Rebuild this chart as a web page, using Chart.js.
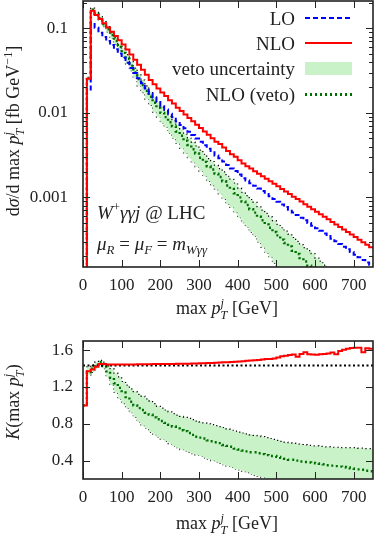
<!DOCTYPE html>
<html>
<head>
<meta charset="utf-8">
<script src="https://cdn.jsdelivr.net/npm/chart.js@4.4.1/dist/chart.umd.min.js"></script>
<style>
  body { margin: 0; background: #fff; }
  #wrap { position: relative; width: 374px; height: 534px; font-family: 'Liberation Serif', serif; color: #222; }
  canvas { position: absolute; left: 0; }
  .lbl { position: absolute; white-space: nowrap; line-height: 1; }
  .c { transform: translate(-50%, -50%); }
  .r { transform: translate(-100%, -50%); }
  .l { transform: translate(0, -50%); }
  .rot { transform: translate(-50%, -50%) rotate(-90deg); }
  .ss { display: inline-block; vertical-align: -0.42em; font-size: 0.68em; line-height: 0.95; text-align: left; font-style: italic; }
  .ss > span { display: block; }
  sub, sup { font-size: 0.68em; line-height: 0; }
  .sw { position: absolute; left: 305px; width: 47px; }
</style>
</head>
<body>
<div id="wrap">
  <canvas id="topChart" width="374" height="300" style="top:0"></canvas>
  <canvas id="botChart" width="374" height="214" style="top:320px"></canvas>

  <!-- axis titles -->
  <div class="lbl rot" style="left:15px; top:131px; font-size:18px;">d<i>σ</i>/d max <i>p</i><span class="ss"><span>j</span><span>T</span></span> [fb GeV<sup>−1</sup>]</div>
  <div class="lbl c" style="left:227px; top:310px; font-size:18px;">max <i>p</i><span class="ss"><span>j</span><span>T</span></span> [GeV]</div>
  <div class="lbl rot" style="left:15px; top:402px; font-size:18px;"><i>K</i>(max <i>p</i><span class="ss"><span>j</span><span>T</span></span>)</div>
  <div class="lbl c" style="left:227px; top:525px; font-size:18px;">max <i>p</i><span class="ss"><span>j</span><span>T</span></span> [GeV]</div>

  <!-- legend -->
  <div class="lbl r" style="left:295px; top:18px; font-size:19px;">LO</div>
  <div class="lbl r" style="left:295px; top:43px; font-size:19px;">NLO</div>
  <div class="lbl r" style="left:295px; top:68px; font-size:19px;">veto uncertainty</div>
  <div class="lbl r" style="left:295px; top:94px; font-size:19px;">NLO (veto)</div>
  <div class="sw" style="top:17px; height:2px; background:repeating-linear-gradient(90deg,#0000ff 0 5px,transparent 5px 8px);"></div>
  <div class="sw" style="top:42px; height:2px; background:#ff0000;"></div>
  <div class="sw" style="top:62px; height:13px; background:#c9f2c9;"></div>
  <div class="sw" style="top:93px; height:2.5px; background:repeating-linear-gradient(90deg,#006e00 0 2px,transparent 2px 5px);"></div>

  <!-- annotations -->
  <div class="lbl l" style="left:97px; top:212px; font-size:19px;"><i>W</i><sup>+</sup><i>γγj</i> @ LHC</div>
  <div class="lbl l" style="left:97px; top:243px; font-size:19px;"><i>μ<sub>R</sub></i> = <i>μ<sub>F</sub></i> = <i>m<sub>Wγγ</sub></i></div>
</div>

<script>
// bins of 10 GeV, lower edges 0 ... 740
const BIN = 10;
const X_MAX = 750;
const binLow = Array.from({ length: 75 }, (_, i) => i * BIN);

const xTicks = [0, 100, 200, 300, 400, 500, 600, 700];
const yTicksTop = [0.001, 0.01, 0.1];
const yTicksBot = [0.4, 0.8, 1.2, 1.6];

// upper panel: d sigma / d max pT [fb/GeV]
const loTop = [
  1e-6, 0.0183, 0.1167, 0.1019, 0.0889, 0.0793, 0.0711, 0.0634, 0.0565, 0.0504,
  0.0449, 0.0391, 0.0340, 0.0296, 0.0257, 0.0224, 0.0195, 0.0170, 0.0151, 0.01346,
  0.0120, 0.01094, 0.00975, 0.00889, 0.00791, 0.00721, 0.00658, 0.00600, 0.00546, 0.00498,
  0.00454, 0.00413, 0.00377, 0.00343, 0.00313, 0.00291, 0.00265, 0.00242, 0.00220, 0.00205,
  0.00186, 0.00169, 0.00158, 0.00147, 0.00137, 0.00127, 0.00119, 0.00110, 0.00103, 0.000957,
  0.000889, 0.000826, 0.000767, 0.000713, 0.000662, 0.000617, 0.000574, 0.000535, 0.000498, 0.000463,
  0.000432, 0.000402, 0.000374, 0.000348, 0.000324, 0.000302, 0.000281, 0.000261, 0.000243, 0.000225,
  0.000210, 0.000195, 0.000182, 0.000170, 0.000159
];
const nloTop = [
  1e-6, 0.0254, 0.162, 0.1445, 0.1288, 0.1148, 0.1023, 0.0912, 0.0813, 0.0724,
  0.0646, 0.0562, 0.0490, 0.0427, 0.0372, 0.0324, 0.0282, 0.0245, 0.0219, 0.0195,
  0.0174, 0.0158, 0.0141, 0.0129, 0.0115, 0.0105, 0.00955, 0.00871, 0.00794, 0.00724,
  0.00661, 0.00603, 0.00550, 0.00501, 0.00457, 0.00427, 0.00389, 0.00355, 0.00324, 0.00302,
  0.00275, 0.00251, 0.00234, 0.00219, 0.00204, 0.00191, 0.00178, 0.00166, 0.00155, 0.00145,
  0.00135, 0.00126, 0.00117, 0.00110, 0.00102, 0.000955, 0.000891, 0.000832, 0.000776, 0.000724,
  0.000676, 0.000631, 0.000589, 0.000550, 0.000513, 0.000479, 0.000447, 0.000417, 0.000389, 0.000363,
  0.000339, 0.000316, 0.000295, 0.000275, 0.000257
];
const vetoTop = [
  1e-6, 0.0251, 0.166, 0.148, 0.132, 0.112, 0.0977, 0.0832, 0.0708, 0.0603,
  0.0513, 0.0437, 0.0363, 0.0302, 0.0251, 0.0214, 0.0182, 0.0155, 0.0132, 0.0115,
  0.0100, 0.00891, 0.00776, 0.00692, 0.00603, 0.00537, 0.00468, 0.00417, 0.00372, 0.00331,
  0.00295, 0.00263, 0.00234, 0.00214, 0.00191, 0.00174, 0.00155, 0.00138, 0.00126, 0.00112,
  0.00100, 0.000891, 0.000813, 0.000724, 0.000661, 0.000589, 0.000537, 0.000479, 0.000437, 0.000389,
  0.000355, 0.000316, 0.000288, 0.000263, 0.000234, 0.000214, 0.000191, 0.000174, 0.000155, 0.000141,
  0.000129, 0.000117, 0.000105, 0.0000955, 0.0000871, 0.0000794, 0.0000724, 0.0000661, 0.0000603, 0.0000550,
  0.0000501, 0.0000457, 0.0000417, 0.0000380, 0.0000347
];
const vetoHiTop = [
  1e-6, 0.0263, 0.174, 0.155, 0.138, 0.120, 0.105, 0.0891, 0.0776, 0.0661,
  0.0575, 0.0490, 0.0407, 0.0339, 0.0288, 0.0245, 0.0209, 0.0178, 0.0155, 0.0135,
  0.0117, 0.0105, 0.00912, 0.00813, 0.00724, 0.00646, 0.00562, 0.00501, 0.00452, 0.00407,
  0.00363, 0.00324, 0.00288, 0.00266, 0.00240, 0.00219, 0.00200, 0.00178, 0.00164, 0.00148,
  0.00129, 0.00115, 0.00105, 0.000944, 0.000871, 0.000776, 0.000708, 0.000646, 0.000589, 0.000531,
  0.000479, 0.000437, 0.000398, 0.000367, 0.000335, 0.000302, 0.000275, 0.000254, 0.000234, 0.000216,
  0.000191, 0.000176, 0.000158, 0.000146, 0.000135, 0.000123, 0.000114, 0.000105, 0.0000966, 0.0000891,
  0.0000813, 0.0000750, 0.0000692, 0.0000638, 0.0000589
];
const vetoLoTop = [
  1e-6, 0.0240, 0.158, 0.141, 0.126, 0.105, 0.0912, 0.0759, 0.0646, 0.0537,
  0.0457, 0.0380, 0.0316, 0.0257, 0.0209, 0.0174, 0.0145, 0.0123, 0.0102, 0.00891,
  0.00759, 0.00676, 0.00575, 0.00501, 0.00437, 0.00380, 0.00331, 0.00295, 0.00257, 0.00229,
  0.00204, 0.00178, 0.00155, 0.00138, 0.00123, 0.00110, 0.000955, 0.000832, 0.000759, 0.000661,
  0.000575, 0.000501, 0.000447, 0.000389, 0.000347, 0.000295, 0.000257, 0.000219, 0.000195, 0.000166,
  0.000148, 0.000126, 0.000115, 0.000105, 0.0000933, 0.0000851, 0.0000759, 0.0000692, 0.0000617, 0.0000562,
  0.0000513, 0.0000468, 0.0000417, 0.0000380, 0.0000347, 0.0000316, 0.0000288, 0.0000263, 0.0000240, 0.0000219,
  0.0000200, 0.0000182, 0.0000166, 0.0000151, 0.0000138
];

// lower panel: K factor
const kTotal = 1.435;
const kNlo = [
  1.00, 1.37, 1.39, 1.42, 1.45, 1.45, 1.445, 1.445, 1.445, 1.445,
  1.445, 1.445, 1.445, 1.445, 1.447, 1.447, 1.447, 1.447, 1.45, 1.45,
  1.45, 1.45, 1.45, 1.45, 1.452, 1.452, 1.453, 1.454, 1.455, 1.456,
  1.457, 1.458, 1.46, 1.462, 1.464, 1.466, 1.468, 1.47, 1.472, 1.474,
  1.476, 1.48, 1.484, 1.488, 1.49, 1.494, 1.50, 1.505, 1.505, 1.51,
  1.52, 1.535, 1.54, 1.548, 1.553, 1.53, 1.56, 1.578, 1.555, 1.553,
  1.55, 1.555, 1.56, 1.565, 1.575, 1.555, 1.59, 1.605, 1.615, 1.625,
  1.626, 1.626, 1.578, 1.62, 1.615
];
const kVeto = [
  1.00, 1.36, 1.40, 1.44, 1.47, 1.43, 1.37, 1.30, 1.24, 1.19,
  1.14, 1.09, 1.04, 1.00, 0.97, 0.95, 0.92, 0.90, 0.87, 0.85,
  0.83, 0.81, 0.79, 0.77, 0.75, 0.73, 0.72, 0.70, 0.68, 0.66,
  0.65, 0.64, 0.62, 0.61, 0.60, 0.59, 0.57, 0.56, 0.55, 0.53,
  0.52, 0.51, 0.50, 0.49, 0.49, 0.48, 0.47, 0.46, 0.45, 0.45,
  0.44, 0.43, 0.42, 0.41, 0.41, 0.40, 0.39, 0.385, 0.38, 0.375,
  0.37, 0.365, 0.36, 0.35, 0.345, 0.34, 0.335, 0.33, 0.325, 0.315,
  0.31, 0.305, 0.30, 0.29, 0.285
];
const kVetoHi = [
  1.00, 1.42, 1.44, 1.47, 1.49, 1.47, 1.43, 1.40, 1.35, 1.31,
  1.26, 1.22, 1.18, 1.15, 1.12, 1.10, 1.07, 1.05, 1.02, 0.99,
  0.97, 0.95, 0.93, 0.91, 0.895, 0.88, 0.87, 0.86, 0.845, 0.83,
  0.82, 0.81, 0.80, 0.79, 0.78, 0.77, 0.76, 0.745, 0.73, 0.72,
  0.71, 0.70, 0.69, 0.68, 0.675, 0.67, 0.66, 0.65, 0.64, 0.63,
  0.62, 0.61, 0.60, 0.595, 0.59, 0.58, 0.575, 0.57, 0.565, 0.56,
  0.56, 0.555, 0.55, 0.55, 0.545, 0.545, 0.54, 0.54, 0.54, 0.54,
  0.54, 0.535, 0.535, 0.53, 0.53
];
const kVetoLo = [
  1.00, 1.33, 1.36, 1.41, 1.45, 1.40, 1.31, 1.22, 1.14, 1.07,
  1.02, 0.97, 0.92, 0.87, 0.82, 0.78, 0.75, 0.71, 0.68, 0.655,
  0.63, 0.61, 0.585, 0.56, 0.54, 0.52, 0.505, 0.49, 0.475, 0.46,
  0.45, 0.43, 0.415, 0.40, 0.385, 0.37, 0.355, 0.34, 0.325, 0.31,
  0.30, 0.285, 0.27, 0.255, 0.24, 0.23, 0.215, 0.20, 0.19, 0.18,
  0.17, 0.16, 0.15, 0.14, 0.13, 0.12, 0.115, 0.11, 0.105, 0.10,
  0.095, 0.09, 0.085, 0.08, 0.075, 0.07, 0.065, 0.06, 0.058, 0.055,
  0.052, 0.05, 0.048, 0.046, 0.044
];

const RED = '#ff0000';
const BLUE = '#0000ff';
const GREEN = '#006e00';
const BAND = '#c9f2c9';
const INK = '#222';
const TICK_FONT = { family: 'Liberation Serif', size: 17 };

Chart.defaults.font.family = 'Liberation Serif';
Chart.defaults.color = INK;

// histogram points: lower bin edges plus closing point at X_MAX
function hist(vals, lead) {
    const pts = binLow.map((x, i) => ({ x: x, y: vals[i] }));
    pts.push({ x: X_MAX, y: vals[vals.length - 1] });
    if (lead !== undefined) pts.unshift({ x: 0, y: lead });
    return pts;
}

function histLine(vals, color, width, dash, order, lead) {
    return {
        data: hist(vals, lead),
        borderColor: color,
        borderWidth: width,
        borderDash: dash,
        stepped: 'before',
        pointRadius: 0,
        fill: false,
        order: order
    };
}

// gnuplot style frame with inward ticks on all four sides
const frameTicks = {
    id: 'frameTicks',
    afterDatasetsDraw(chart, args, opts) {
        const ctx = chart.ctx;
        const a = chart.chartArea;
        const sx = chart.scales.x;
        const sy = chart.scales.y;
        ctx.save();
        ctx.strokeStyle = INK;
        ctx.lineWidth = 1;
        ctx.beginPath();
        xTicks.forEach(v => {
            const px = Math.round(sx.getPixelForValue(v)) + 0.5;
            ctx.moveTo(px, a.bottom); ctx.lineTo(px, a.bottom - 7);
            ctx.moveTo(px, a.top); ctx.lineTo(px, a.top + 7);
        });
        opts.yMarks.forEach(m => {
            const py = Math.round(sy.getPixelForValue(m.v)) + 0.5;
            if (py < a.top || py > a.bottom) return;
            ctx.moveTo(a.left, py); ctx.lineTo(a.left + m.len, py);
            ctx.moveTo(a.right, py); ctx.lineTo(a.right - m.len, py);
        });
        ctx.stroke();
        ctx.lineWidth = 1.6;
        ctx.strokeRect(a.left, a.top, a.right - a.left, a.bottom - a.top);
        ctx.restore();
    }
};

// fixed axis sizes so both panels line up with the picture
function xScale(height) {
    return {
        type: 'linear',
        min: 0,
        max: X_MAX,
        grid: { display: false, drawTicks: false },
        border: { display: false },
        afterBuildTicks: s => { s.ticks = xTicks.map(v => ({ value: v })); },
        afterFit: s => { s.height = height; s.paddingLeft = 0; s.paddingRight = 0; },
        ticks: { font: TICK_FONT, color: INK, padding: 8, maxRotation: 0, autoSkip: false }
    };
}

function fixY(s) {
    s.width = 83;
    s.paddingTop = 0;
    s.paddingBottom = 0;
}

// log minor marks for the upper panel
const topMarks = [];
[-4, -3, -2, -1].forEach(d => {
    for (let m = 1; m <= 9; m++) topMarks.push({ v: m * Math.pow(10, d), len: m === 1 ? 7 : 4 });
});
const botMarks = yTicksBot.map(v => ({ v: v, len: 7 }));

const topDatasets = [
    histLine(nloTop, RED, 2, [], 0),
    histLine(loTop, BLUE, 2, [5, 3], 1),
    histLine(vetoTop, GREEN, 2.4, [2, 3], 2),
    Object.assign(histLine(vetoHiTop, '#000', 1.2, [1.2, 3], 3), { fill: 4, backgroundColor: BAND }),
    histLine(vetoLoTop, '#000', 1.2, [1.2, 3], 4)
];

new Chart(document.getElementById('topChart'), {
    type: 'line',
    data: { datasets: topDatasets },
    options: {
        responsive: false,
        animation: false,
        layout: { padding: { left: 0, right: 1, top: 1, bottom: 0 } },
        plugins: { legend: { display: false }, tooltip: { enabled: false }, frameTicks: { yMarks: topMarks } },
        scales: {
            x: xScale(33),
            y: {
                type: 'logarithmic',
                min: 1.5e-4,
                max: 0.211,
                grid: { display: false, drawTicks: false },
                border: { display: false },
                afterBuildTicks: s => { s.ticks = yTicksTop.map(v => ({ value: v })); },
                afterFit: fixY,
                ticks: { font: TICK_FONT, color: INK, padding: 15, callback: v => String(v) }
            }
        }
    },
    plugins: [frameTicks]
});

const botDatasets = [
    histLine(kNlo, RED, 2, [], 0, 0),
    {
        data: [{ x: 0, y: kTotal }, { x: X_MAX, y: kTotal }],
        borderColor: '#000', borderWidth: 2, borderDash: [2, 2.5],
        pointRadius: 0, fill: false, order: 1
    },
    histLine(kVeto, GREEN, 2.4, [2, 3], 2),
    Object.assign(histLine(kVetoHi, '#000', 1.2, [1.2, 3], 3), { fill: 4, backgroundColor: BAND }),
    histLine(kVetoLo, '#000', 1.2, [1.2, 3], 4)
];

new Chart(document.getElementById('botChart'), {
    type: 'line',
    data: { datasets: botDatasets },
    options: {
        responsive: false,
        animation: false,
        layout: { padding: { left: 0, right: 1, top: 21, bottom: 0 } },
        plugins: { legend: { display: false }, tooltip: { enabled: false }, frameTicks: { yMarks: botMarks } },
        scales: {
            x: xScale(55),
            y: {
                type: 'linear',
                min: 0.2,
                max: 1.7,
                grid: { display: false, drawTicks: false },
                border: { display: false },
                afterBuildTicks: s => { s.ticks = yTicksBot.map(v => ({ value: v })); },
                afterFit: fixY,
                ticks: { font: TICK_FONT, color: INK, padding: 10, callback: v => v.toFixed(1) }
            }
        }
    },
    plugins: [frameTicks]
});
</script>
</body>
</html>
